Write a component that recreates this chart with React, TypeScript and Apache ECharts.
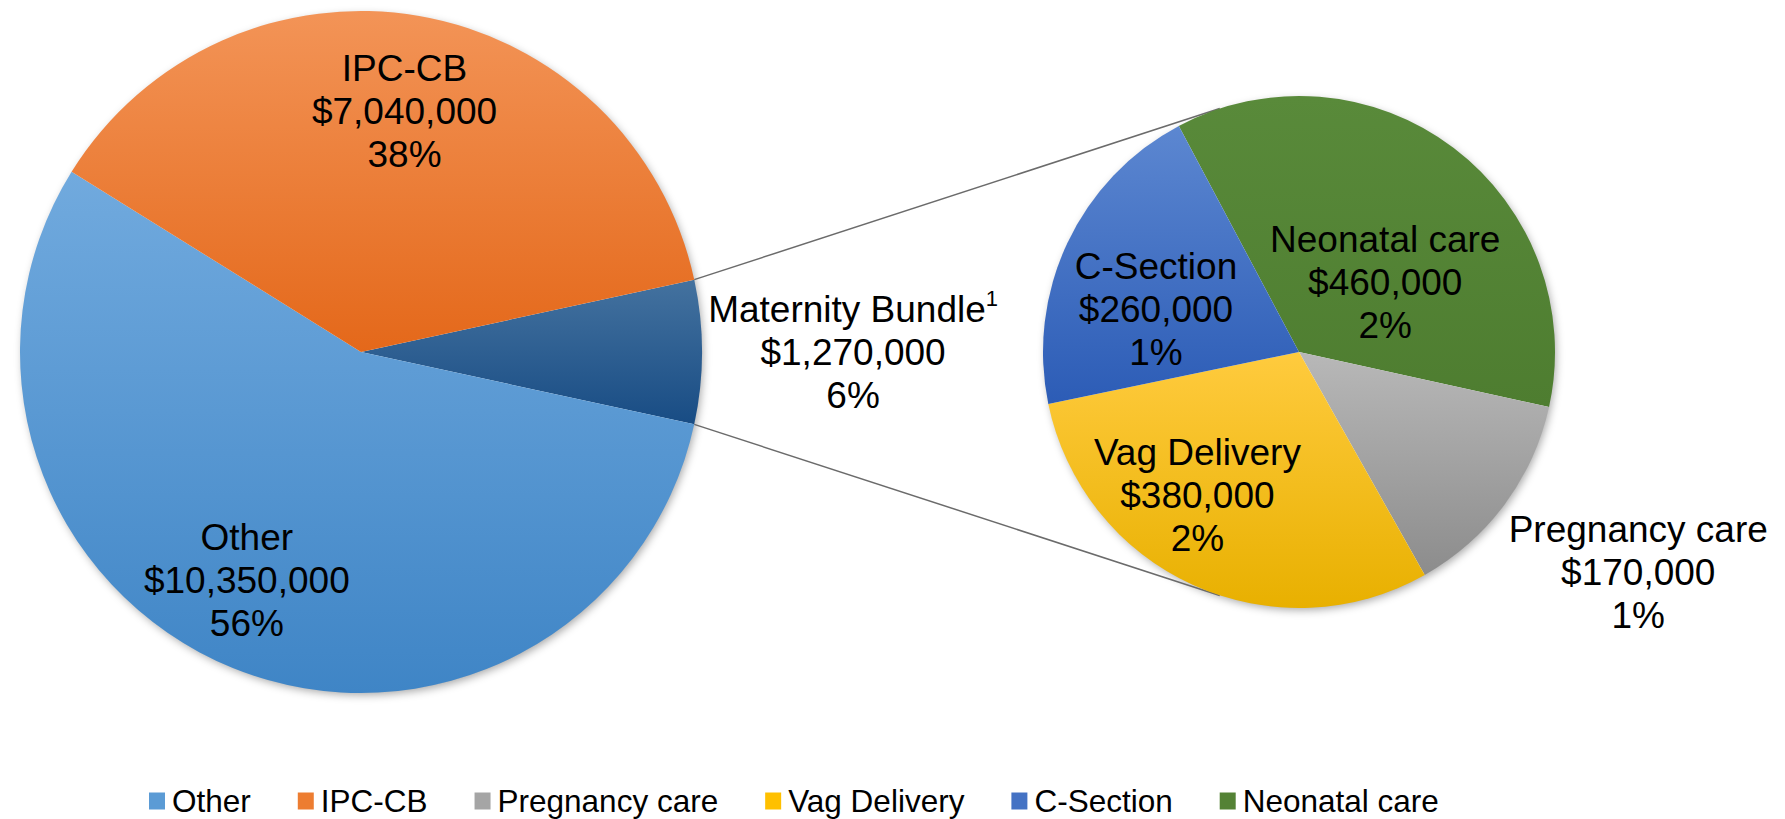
import React, { useEffect, useRef } from "react";
import * as echarts from "echarts";

// ---------- data ----------
const MAIN_NAMES = ["Maternity Bundle", "Other", "IPC-CB"];
const MAIN_VALUES = [1270000, 10350000, 7040000];
const MAIN_PCT = ["6%", "56%", "38%"];

const SUB_NAMES = ["Neonatal care", "Pregnancy care", "Vag Delivery", "C-Section"];
const SUB_VALUES = [460000, 170000, 380000, 260000];
const SUB_PCT = ["2%", "1%", "2%", "1%"];

const LEGEND_NAMES = ["Other", "IPC-CB", "Pregnancy care", "Vag Delivery", "C-Section", "Neonatal care"];

// ---------- styles / layout ----------
const FONT = '"Liberation Sans", Arial, Helvetica, sans-serif';
const COLORS: Record<string, [string, string, string]> = {
  "Maternity Bundle": ["#44729F", "#184C84", "#255E91"],
  Other: ["#71AADE", "#3F85C6", "#5B9BD5"],
  "IPC-CB": ["#F39457", "#E4681A", "#ED7D31"],
  "Pregnancy care": ["#B8B8B8", "#8C8C8C", "#A5A5A5"],
  "Vag Delivery": ["#FFCB3E", "#E8B000", "#FFC000"],
  "C-Section": ["#5C87D1", "#2C5CB6", "#4472C4"],
  "Neonatal care": ["#598A3A", "#4E7D30", "#548235"],
};

const MAIN_CENTER = [361, 352];
const MAIN_R = 341;
const SUB_CENTER = [1299, 352];
const SUB_R = 256;
const SUB_START = 118;

// label placement: [radius fraction, angle shift in degrees from slice middle]
const MAIN_LABEL_SPOT: [number, number][] = [[1.443, 0], [0.748, -4.5], [0.718, -0.4]];
const SUB_LABEL_SPOT: [number, number][] = [[0.433, -13.9], [1.58, 3.5], [0.686, -10.9], [0.583, 8.5]];

const sum = (a: number[]) => a.reduce((s, v) => s + v, 0);

function midAngles(values: number[], start: number) {
  const total = sum(values);
  let a = start;
  return values.map((v) => {
    const span = (v / total) * 360;
    const m = a - span / 2;
    a -= span;
    return m;
  });
}

const money = (v: number) => "$" + v.toLocaleString("en-US");

function gradient(name: string) {
  const c = COLORS[name];
  return new echarts.graphic.LinearGradient(0, 0, 0, 1, [
    { offset: 0, color: c[0] },
    { offset: 1, color: c[1] },
  ]);
}

export default function App() {
  const ref = useRef<HTMLDivElement>(null);

  useEffect(() => {
    if (!ref.current) return;
    const chart = echarts.init(ref.current, undefined, { renderer: "svg" });

    const mainTotal = sum(MAIN_VALUES);
    const mainStart = ((MAIN_VALUES[0] / mainTotal) * 360) / 2;
    const mainMid = midAngles(MAIN_VALUES, mainStart);
    const subMid = midAngles(SUB_VALUES, SUB_START);

    const rad = (d: number) => (d * Math.PI) / 180;

    const layoutFn = (center: number[], r: number, mids: number[], spots: [number, number][]) =>
      (params: any) => {
        const i = params.dataIndex;
        const [rf, da] = spots[i];
        const a = rad(mids[i] + da);
        return {
          x: center[0] + rf * r * Math.cos(a),
          y: center[1] - rf * r * Math.sin(a),
          align: "center",
          verticalAlign: "middle",
        };
      };

    // connector lines: from maternity slice edges on main pie, tangent to secondary pie
    const edgePoint = (ang: number) => [
      MAIN_CENTER[0] + MAIN_R * Math.cos(rad(ang)),
      MAIN_CENTER[1] - MAIN_R * Math.sin(rad(ang)),
    ];
    const tangent = (p: number[], upper: boolean) => {
      const dx = p[0] - SUB_CENTER[0];
      const dy = -(p[1] - SUB_CENTER[1]);
      const d = Math.hypot(dx, dy);
      const beta = Math.atan2(dy, dx);
      const alpha = Math.acos(SUB_R / d);
      const t = upper ? beta - alpha : beta + alpha;
      return [SUB_CENTER[0] + SUB_R * Math.cos(t), SUB_CENTER[1] - SUB_R * Math.sin(t)];
    };
    const pTop = edgePoint(mainStart);
    const pBot = edgePoint(-mainStart);
    const tTop = tangent(pTop, true);
    const tBot = tangent(pBot, false);

    const richStyle = {
      n: { fontSize: 37, lineHeight: 43, color: "#000", fontFamily: FONT },
      s: { fontSize: 22, lineHeight: 30, color: "#000", fontFamily: FONT, verticalAlign: "top" },
    };

    chart.setOption({
      animation: false,
      backgroundColor: "#fff",
      graphic: [
        {
          type: "circle",
          z: 0,
          shape: { cx: MAIN_CENTER[0], cy: MAIN_CENTER[1], r: MAIN_R - 1 },
          style: { fill: "#fff", shadowBlur: 8, shadowColor: "rgba(0,0,0,0.35)", shadowOffsetX: 2, shadowOffsetY: 3 },
        },
        {
          type: "circle",
          z: 0,
          shape: { cx: SUB_CENTER[0], cy: SUB_CENTER[1], r: SUB_R - 1 },
          style: { fill: "#fff", shadowBlur: 8, shadowColor: "rgba(0,0,0,0.35)", shadowOffsetX: 2, shadowOffsetY: 3 },
        },
        {
          type: "line",
          z: 1,
          shape: { x1: pTop[0], y1: pTop[1], x2: tTop[0], y2: tTop[1] },
          style: { stroke: "#6b6b6b", lineWidth: 1.5 },
        },
        {
          type: "line",
          z: 1,
          shape: { x1: pBot[0], y1: pBot[1], x2: tBot[0], y2: tBot[1] },
          style: { stroke: "#6b6b6b", lineWidth: 1.5 },
        },
      ],
      legend: {
        left: 149,
        top: 783,
        padding: 0,
        icon: "rect",
        itemWidth: 16,
        itemHeight: 17,
        itemGap: 47,
        selectedMode: false,
        textStyle: { fontSize: 31.5, fontFamily: FONT, color: "#000", lineHeight: 36, padding: [0, 0, 0, 2] },
        data: LEGEND_NAMES.map((n) => ({ name: n, itemStyle: { color: COLORS[n][2] } })),
      },
      series: [
        {
          type: "pie",
          name: "main",
          z: 2,
          center: MAIN_CENTER,
          radius: MAIN_R,
          startAngle: mainStart,
          clockwise: true,
          avoidLabelOverlap: false,
          emphasis: { disabled: true },
          data: MAIN_NAMES.map((n, i) => ({ name: n, value: MAIN_VALUES[i], itemStyle: { color: gradient(n) } })),
          label: {
            show: true,
            position: "inside",
            formatter: (p: any) => {
              const i = p.dataIndex;
              const first = i === 0 ? "{n|Maternity Bundle}{s|1}" : `{n|${MAIN_NAMES[i]}}`;
              return `${first}\n{n|${money(MAIN_VALUES[i])}}\n{n|${MAIN_PCT[i]}}`;
            },
            rich: richStyle,
          },
          labelLine: { show: false },
          labelLayout: layoutFn(MAIN_CENTER, MAIN_R, mainMid, MAIN_LABEL_SPOT),
        },
        {
          type: "pie",
          name: "sub",
          z: 2,
          center: SUB_CENTER,
          radius: SUB_R,
          startAngle: SUB_START,
          clockwise: true,
          avoidLabelOverlap: false,
          emphasis: { disabled: true },
          data: SUB_NAMES.map((n, i) => ({ name: n, value: SUB_VALUES[i], itemStyle: { color: gradient(n) } })),
          label: {
            show: true,
            position: "inside",
            formatter: (p: any) => {
              const i = p.dataIndex;
              return `{n|${SUB_NAMES[i]}}\n{n|${money(SUB_VALUES[i])}}\n{n|${SUB_PCT[i]}}`;
            },
            rich: richStyle,
          },
          labelLine: { show: false },
          labelLayout: layoutFn(SUB_CENTER, SUB_R, subMid, SUB_LABEL_SPOT),
        },
      ],
    });

    return () => chart.dispose();
  }, []);

  return (
    <div
      ref={ref}
      style={{ position: "fixed", left: 0, top: 0, width: 1785, height: 819, background: "#fff" }}
    />
  );
}
